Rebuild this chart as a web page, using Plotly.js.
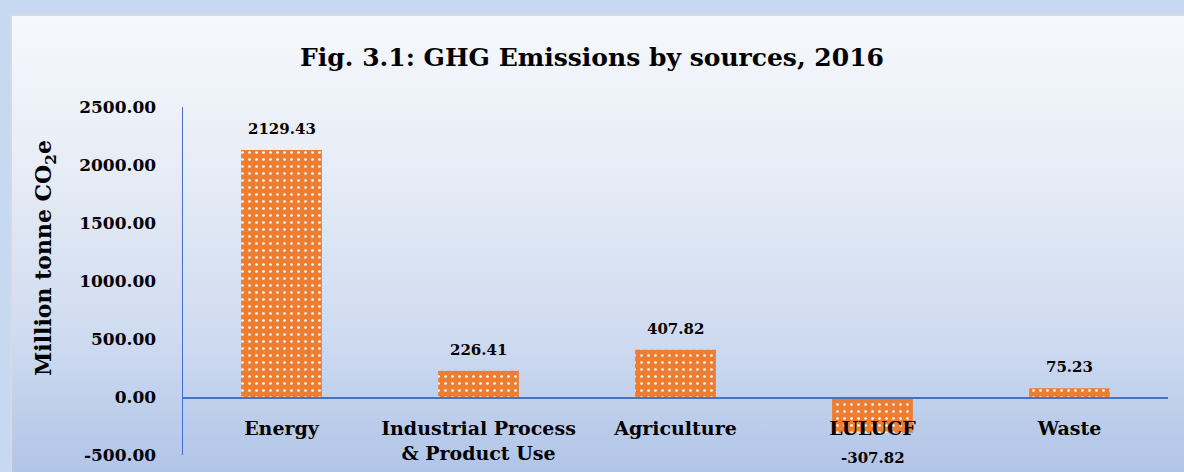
<!DOCTYPE html>
<html><head><meta charset="utf-8">
<script src="https://cdn.plot.ly/plotly-3.0.1.min.js"></script>
<style>
html,body{margin:0;padding:0;width:1184px;height:472px;overflow:hidden;background:#c6d9f0;}
#bg{position:absolute;left:10px;top:14px;width:1174px;height:458px;border-top:2px solid #d6d9de;border-left:2px solid #d6d9de;box-sizing:border-box;
background:linear-gradient(to bottom,#f6f8fc 0%,#e6ecf6 35%,#cfdbf0 70%,#b1c5e8 100%);}
#chart{position:absolute;left:0;top:0;width:1184px;height:472px;}
</style></head>
<body>
<div id="bg"></div>
<div id="chart"></div>
<script>
const categories = ["Energy", "Industrial Process<br>& Product Use", "Agriculture", "LULUCF", "Waste"];
const emissions = [2129.43, 226.41, 407.82, -307.82, 75.23];
const labels = ["2129.43", "226.41", "407.82", "-307.82", "75.23"];
const yTicks = [-500, 0, 500, 1000, 1500, 2000, 2500];
const yTickText = ["-500.00", "0.00", "500.00", "1000.00", "1500.00", "2000.00", "2500.00"];

const font = "'DejaVu Serif', 'Liberation Serif', serif";

const trace = {
  type: 'bar',
  x: categories,
  y: emissions,
  marker: {
    color: '#ed7d31',
    line: {width: 0},
    pattern: {shape: '.', fgcolor: '#ffffff', bgcolor: '#ed7d31', size: 7, solidity: 0.12}
  },
  hoverinfo: 'skip'
};

const valueLabels = categories.map((c, i) => ({
  x: c, y: emissions[i], xref: 'x', yref: 'y',
  text: '<b>' + labels[i] + '</b>', showarrow: false,
  xanchor: 'center',
  yanchor: emissions[i] >= 0 ? 'bottom' : 'top',
  yshift: emissions[i] >= 0 ? 10 : -14,
  font: {family: font, size: 15, color: '#000'}
}));

const layout = {
  width: 1184, height: 472,
  paper_bgcolor: 'rgba(0,0,0,0)',
  plot_bgcolor: 'rgba(0,0,0,0)',
  margin: {l: 183, r: 16, t: 107, b: 17},
  showlegend: false,
  bargap: 0.59,
  title: {text: '<b>Fig. 3.1: GHG Emissions by sources, 2016</b>', font: {family: font, size: 25, color: '#000'}, x: 0.5, xanchor: 'center', y: 0.879, yanchor: 'middle'},
  xaxis: {
    type: 'category',
    tickvals: categories,
    ticktext: categories.map(c => '<b>' + c.replace('<br>', '</b><br><b>') + '</b>'),
    anchor: 'free', position: 1/6,
    showline: true, linecolor: '#4472c4', linewidth: 1.5,
    showgrid: false, zeroline: false, ticks: '',
    tickfont: {family: font, size: 19, color: '#000'},
    ticklabelstandoff: 14,
    tickangle: 0,
    layer: 'above traces'
  },
  yaxis: {
    range: [-500, 2500],
    tickvals: yTicks, ticktext: yTickText.map(t => '<b>' + t + '</b>'),
    showline: true, linecolor: '#4472c4', linewidth: 1.5,
    showgrid: false, zeroline: false, ticks: '',
    tickfont: {family: font, size: 17, color: '#000'},
    ticklabelstandoff: 22
  },
  annotations: valueLabels.concat([{
    text: '<b>Million tonne CO<sub>2</sub>e</b>',
    xref: 'paper', yref: 'paper', x: 0, y: 0.566, xshift: -138,
    xanchor: 'center', yanchor: 'middle', textangle: -90, showarrow: false,
    font: {family: font, size: 22, color: '#000'}
  }])
};

Plotly.newPlot('chart', [trace], layout, {displayModeBar: false, staticPlot: true});
</script>
</body></html>
